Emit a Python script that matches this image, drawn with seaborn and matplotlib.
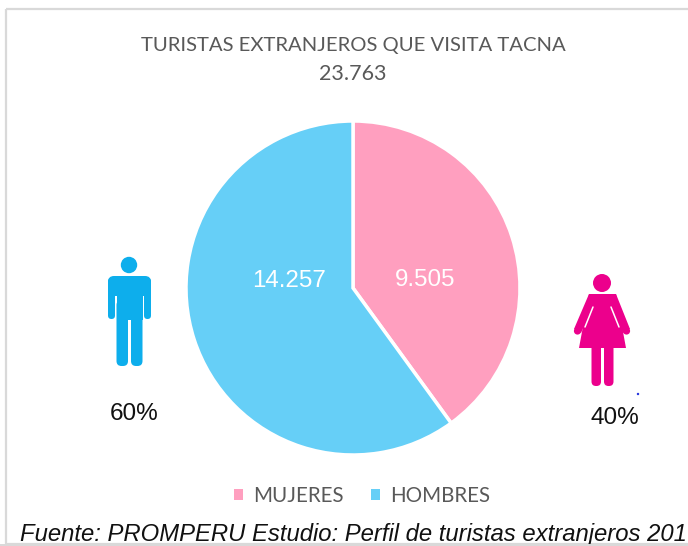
import matplotlib
matplotlib.use('Agg')
import matplotlib.pyplot as plt
import seaborn as sns
from matplotlib.patches import Circle, Polygon, Rectangle, FancyBboxPatch

sns.set_theme(style='white')
plt.rcParams['font.family'] = ['Liberation Sans', 'DejaVu Sans']

# Data
categories = ['MUJERES', 'HOMBRES']
values = [9505, 14257]
total = 23763
percents = ['40%', '60%']
colors = ['#FF9FBF', '#66CFF7']
title = 'TURISTAS EXTRANJEROS QUE VISITA TACNA'
source = 'Fuente: PROMPERU Estudio: Perfil de turistas extranjeros 201'


def fmt(v):
    return f'{v:,}'.replace(',', '.')


W, H = 688, 546
fig = plt.figure(figsize=(W / 100, H / 100), dpi=100, facecolor='white')

# overlay in pixel coordinates for frame, icons and free text
bg = fig.add_axes([0, 0, 1, 1])
bg.set_xlim(0, W)
bg.set_ylim(H, 0)
bg.axis('off')

# chart frame
bg.add_patch(Rectangle((6, 9), 700, 535, fill=False, ec='#D9D9D9', lw=1.6))

# pie
cx, cy, r = 353, 288, 167
ax = fig.add_axes([(cx - r) / W, (H - cy - r) / H, 2 * r / W, 2 * r / H])
wedges, _ = ax.pie(values, colors=colors, startangle=90, counterclock=False,
                   radius=1, wedgeprops={'edgecolor': 'white', 'linewidth': 2.5})
ax.set_xlim(-1, 1)
ax.set_ylim(-1, 1)
ax.set_aspect('equal')
for sp in ax.patches:
    sp.set_clip_on(False)

ax.text(0.43, 0.05, fmt(values[0]), color='white', fontsize=17.4, ha='center', va='center')
ax.text(-0.38, 0.04, fmt(values[1]), color='white', fontsize=17.4, ha='center', va='center')

# titles
bg.text(353, 45, title, family='Lato', fontsize=14.6, color='#595959', ha='center', va='center')
bg.text(353, 74, fmt(total), family='Lato', fontsize=15.5, color='#595959', ha='center', va='center')


def rounded(x0, y0, x1, y1, rad, color):
    bg.add_patch(FancyBboxPatch((x0 + rad, y0 + rad), x1 - x0 - 2 * rad, y1 - y0 - 2 * rad,
                                boxstyle=f'round,pad={rad}', fc=color, ec='none'))


# man icon
blue = '#0DAEEC'
bg.add_patch(Circle((129, 265), 8.2, fc=blue, ec='none'))
rounded(108, 276, 151, 296, 6, blue)
rounded(108, 278, 115, 319, 3.5, blue)
rounded(144, 278, 151, 319, 3.5, blue)
bg.add_patch(Rectangle((116.5, 280), 26, 40, fc=blue, ec='none'))
rounded(116.5, 300, 128, 366, 5, blue)
rounded(131, 300, 142.5, 366, 5, blue)

# woman icon
pink = '#EC008C'
bg.add_patch(Circle((602, 283), 9, fc=pink, ec='none'))
bg.add_patch(Polygon([(589, 294), (616, 294), (626, 348), (579, 348)], fc=pink, ec='none'))
for pts in ([(589, 294), (598, 294), (581, 333), (574, 329)],
            [(607, 294), (616, 294), (630, 329), (623, 333)]):
    bg.add_patch(Polygon(pts, fc=pink, ec='none'))
bg.add_patch(Circle((577.5, 331), 3.6, fc=pink, ec='none'))
bg.add_patch(Circle((626.5, 331), 3.6, fc=pink, ec='none'))
bg.plot([593, 585], [307, 327], color='white', lw=1.1)
bg.plot([611, 619], [307, 327], color='white', lw=1.1)
rounded(591.5, 340, 601, 386, 4.5, pink)
rounded(604, 340, 613.5, 386, 4.5, pink)
bg.add_patch(Circle((638, 394), 1.2, fc='#2233DD', ec='none'))

# percent labels
bg.text(134, 414, percents[1], fontsize=17.5, color='#111111', ha='center', va='center')
bg.text(615, 418, percents[0], fontsize=17.5, color='#111111', ha='center', va='center')

# legend
handles = [Rectangle((0, 0), 1, 1, fc=c, ec='none') for c in colors]
leg = fig.legend(handles, categories, loc='center', bbox_to_anchor=(362 / W, 1 - 496 / H),
                 ncol=2, frameon=False, handlelength=0.42, handleheight=0.42,
                 handletextpad=0.5, columnspacing=1.35,
                 prop={'family': 'Lato', 'size': 14.8})
for t in leg.get_texts():
    t.set_color('#595959')

# source line, cut at the right edge like the original
bg.text(20, 534, source, fontsize=17.2, style='italic', color='#111111', ha='left', va='center')
bg.add_patch(Rectangle((0, 544), W, 2, fc='#D9D9D9', ec='none', zorder=5))

fig.savefig('out.png', dpi=100)
